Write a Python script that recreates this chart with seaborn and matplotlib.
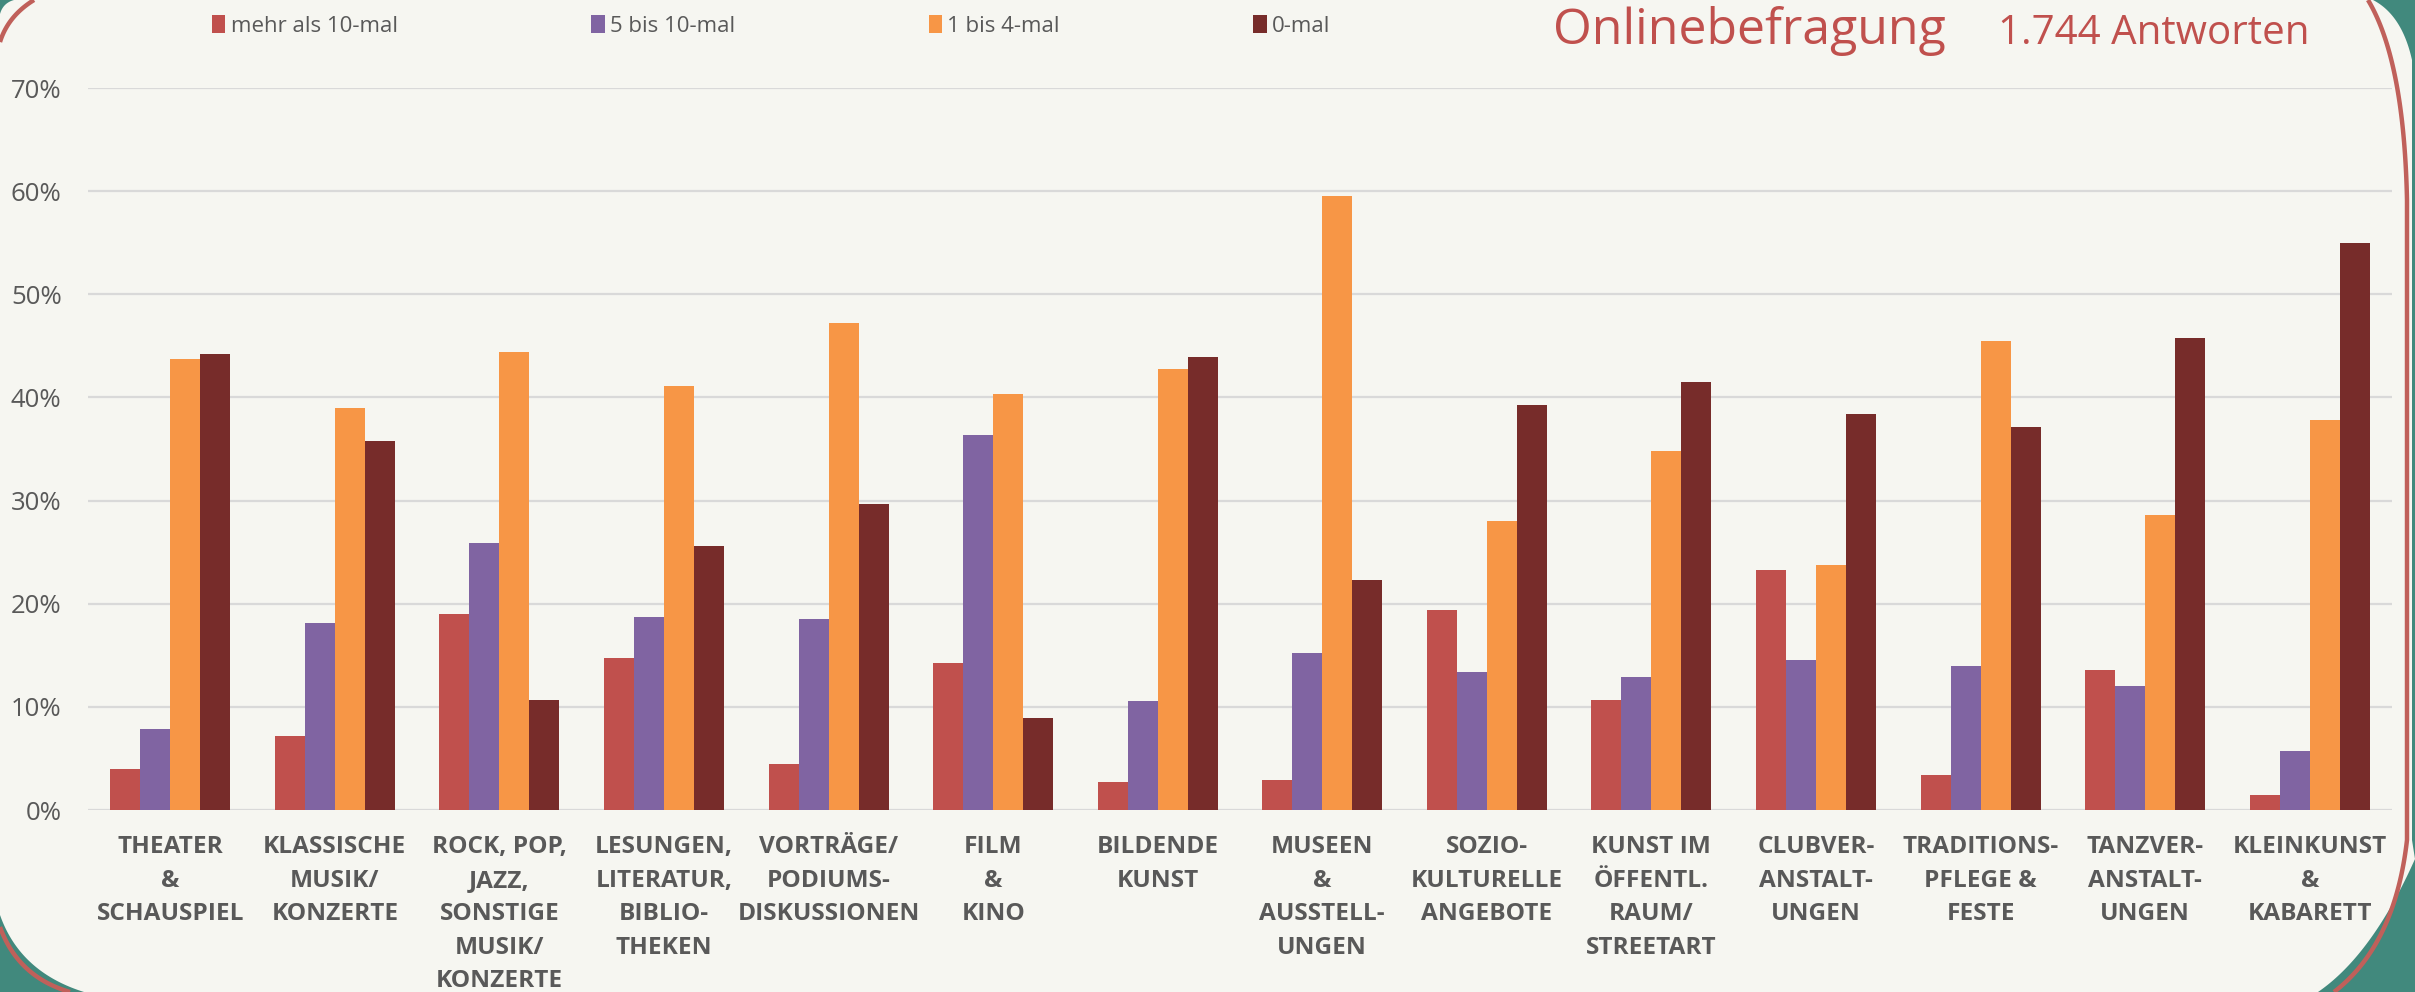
import numpy as np
import pandas as pd
import matplotlib
matplotlib.use("Agg")
import matplotlib.pyplot as plt
from matplotlib.patches import Patch, Polygon
import seaborn as sns

categories = [
    "THEATER\n&\nSCHAUSPIEL",
    "KLASSISCHE\nMUSIK/\nKONZERTE",
    "ROCK, POP,\nJAZZ,\nSONSTIGE\nMUSIK/\nKONZERTE",
    "LESUNGEN,\nLITERATUR,\nBIBLIO-\nTHEKEN",
    "VORTRÄGE/\nPODIUMS-\nDISKUSSIONEN",
    "FILM\n&\nKINO",
    "BILDENDE\nKUNST",
    "MUSEEN\n&\nAUSSTELL-\nUNGEN",
    "SOZIO-\nKULTURELLE\nANGEBOTE",
    "KUNST IM\nÖFFENTL.\nRAUM/\nSTREETART",
    "CLUBVER-\nANSTALT-\nUNGEN",
    "TRADITIONS-\nPFLEGE &\nFESTE",
    "TANZVER-\nANSTALT-\nUNGEN",
    "KLEINKUNST\n&\nKABARETT",
]
series_names = ["mehr als 10-mal", "5 bis 10-mal", "1 bis 4-mal", "0-mal"]
mehr_als_10 = [4.0, 7.2, 19.0, 14.7, 4.5, 14.3, 2.7, 2.9, 19.4, 10.7, 23.3, 3.4, 13.6, 1.5]
bis_5_10 = [7.9, 18.1, 25.9, 18.7, 18.5, 36.4, 10.6, 15.2, 13.4, 12.9, 14.5, 14.0, 12.0, 5.7]
bis_1_4 = [43.7, 39.0, 44.4, 41.1, 47.2, 40.3, 42.8, 59.5, 28.0, 34.8, 23.8, 45.5, 28.6, 37.8]
null_mal = [44.2, 35.8, 10.7, 25.6, 29.7, 8.9, 43.9, 22.3, 39.3, 41.5, 38.4, 37.1, 45.8, 55.0]
yticks = [0, 10, 20, 30, 40, 50, 60, 70]
title = "Onlinebefragung"
subtitle = "1.744 Antworten"

colors = ["#C0504D", "#8064A2", "#F79646", "#772C2A"]
bg = "#F6F6F1"
teal = "#41897D"
red_line = "#C0605A"
grey_text = "#595959"

rows = []
for s, vals in zip(series_names, [mehr_als_10, bis_5_10, bis_1_4, null_mal]):
    for c, v in zip(categories, vals):
        rows.append({"cat": c, "series": s, "val": v})
df = pd.DataFrame(rows)

sns.set_style("white")
plt.rcParams["font.family"] = ["Open Sans", "DejaVu Sans"]

W, H = 2415, 992
fig = plt.figure(figsize=(W / 100, H / 100), dpi=100, facecolor=bg)

# decorative background frame
bgax = fig.add_axes([0, 0, 1, 1], zorder=0)
bgax.set_xlim(0, W)
bgax.set_ylim(H, 0)
bgax.axis("off")
bgax.set_facecolor(bg)


def bez(p0, p1, p2, n=60):
    t = np.linspace(0, 1, n)[:, None]
    p0, p1, p2 = np.array(p0, float), np.array(p1, float), np.array(p2, float)
    return (1 - t) ** 2 * p0 + 2 * (1 - t) * t * p1 + t ** 2 * p2


# top-left
tl = np.vstack([bez((14, 0), (3, 3), (0, 14)), [[0, 0]]])
bgax.add_patch(Polygon(tl, closed=True, facecolor=teal, edgecolor="none"))
c = bez((34, 0), (8, 16), (0, 42))
bgax.plot(c[:, 0], c[:, 1], color=red_line, lw=3.2, solid_capstyle="butt")
# bottom-left
bl = np.vstack([bez((0, 915), (20, 972), (84, 992)), [[0, 992]]])
bgax.add_patch(Polygon(bl, closed=True, facecolor=teal, edgecolor="none"))
c = bez((0, 927), (18, 977), (70, 992))
bgax.plot(c[:, 0], c[:, 1], color=red_line, lw=3.2, solid_capstyle="butt")
# right side
rp = np.vstack([
    bez((2373, 0), (2402, 15), (2412, 60)),
    [[2412, 840]],
    bez((2415, 859), (2372, 955), (2318, 992)),
    [[W, H], [W, 0]],
])
bgax.add_patch(Polygon(rp, closed=True, facecolor=teal, edgecolor="none"))
c = np.vstack([
    bez((2368, 0), (2404, 60), (2407, 200)),
    [[2407, 820]],
    bez((2407, 840), (2395, 945), (2334, 992)),
])
bgax.plot(c[:, 0], c[:, 1], color=red_line, lw=3.2, solid_capstyle="butt")

# main chart
left, right, top, bottom = 88, 2392, 88, 810
ax = fig.add_axes([left / W, 1 - bottom / H, (right - left) / W, (bottom - top) / H], zorder=2)
ax.set_facecolor("none")
sns.barplot(data=df, x="cat", y="val", hue="series", palette=colors, hue_order=series_names,
            order=categories, width=0.73, gap=0, saturation=1, linewidth=0,
            legend=False, ax=ax, errorbar=None)
ax.set_ylim(0, 70)
ax.set_yticks(yticks)
ax.set_yticklabels([f"{t}%" for t in yticks])
ax.set_xlabel("")
ax.set_ylabel("")
for sp in ax.spines.values():
    sp.set_visible(False)
ax.grid(axis="y", color="#D9D9D9", linewidth=1.6)
ax.grid(axis="x", visible=False)
ax.set_axisbelow(True)
ax.tick_params(axis="y", length=0, pad=19, labelsize=18.5, labelcolor=grey_text)
ax.tick_params(axis="x", length=0, pad=18, labelsize=17.6, labelcolor=grey_text)
for lab in ax.get_xticklabels():
    lab.set_fontweight("bold")
    lab.set_linespacing(1.53)
    lab.set_multialignment("center")

# legend
handles = [Patch(facecolor=col, edgecolor="none") for col in colors]
fig.legend(handles, series_names, loc="center left", bbox_to_anchor=(212 / W, 1 - 26 / H),
           ncol=4, frameon=False, fontsize=16, labelcolor=grey_text,
           handlelength=0.6, handleheight=0.85, handletextpad=0.25, columnspacing=8.7,
           borderpad=0, borderaxespad=0)

fig.text(1553 / W, 1 - 44 / H, title, fontsize=36, color="#C0504D", va="baseline", ha="left")
fig.text(1998 / W, 1 - 44 / H, subtitle, fontsize=29, color="#C0504D", va="baseline", ha="left")

fig.savefig("out.png", dpi=100, facecolor=bg)
